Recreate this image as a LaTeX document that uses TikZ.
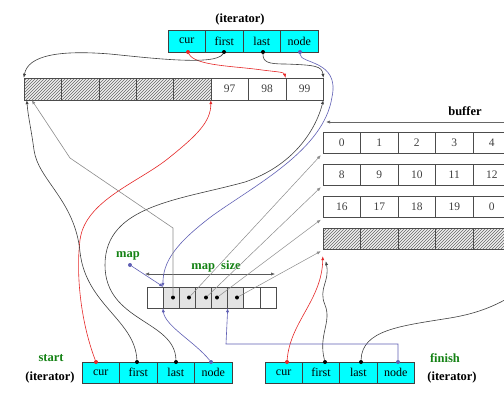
\documentclass[tikz,border=0pt]{standalone}
\usepackage{fontspec}
\setmainfont{Liberation Serif}
\usetikzlibrary{arrows.meta,patterns,calc}
\definecolor{cyanbox}{RGB}{0,255,255}
\definecolor{redline}{RGB}{230,40,40}
\definecolor{blueline}{RGB}{95,95,180}
\definecolor{greentext}{RGB}{20,130,20}
\definecolor{grayline}{RGB}{140,140,140}
\tikzset{
  itcell/.style={draw=black!75, fill=cyanbox, minimum width=37.5pt, minimum height=22pt, inner sep=0pt, font=\fontsize{12}{14}\selectfont},
  bufcell/.style={draw=black!70, fill=white, minimum width=37.4pt, minimum height=22pt, inner sep=0pt, font=\fontsize{11.5}{14}\selectfont, text=black!75},
  rowcell/.style={bufcell, minimum width=37.5pt, minimum height=21pt},
  hatchcell/.style={draw=black!70, minimum width=37.4pt, minimum height=22pt, inner sep=0pt, preaction={fill=gray!12}, pattern=north east lines, pattern color=black!60},
  hatchrow/.style={hatchcell, minimum width=37.5pt, minimum height=21pt},
  mapcell/.style={draw=black!70, fill=white, minimum width=16.1pt, minimum height=21pt, inner sep=0pt},
  mapfull/.style={mapcell, fill=gray!22},
  dotmark/.style={circle, fill, inner sep=0pt, minimum size=4pt},
  ptr/.style={-{Latex[length=4pt,width=3.2pt]}, line width=0.6pt},
  lbl/.style={font=\bfseries\fontsize{12.5}{14}\selectfont},
  glbl/.style={font=\bfseries\fontsize{12.5}{14}\selectfont, text=greentext},
}
\begin{document}
\begin{tikzpicture}[x=1pt,y=-1pt]
\useasboundingbox[fill=white] (0,0) rectangle (504,402);

% ---- top iterator
\node[lbl] (titlab) at (240,19) {(iterator)};
\node[itcell] (tcur) at (186.75,41) {cur};
\node[itcell] (tfirst) at (224.25,41) {first};
\node[itcell] (tlast) at (261.75,41) {last};
\node[itcell] (tnode) at (299.25,41) {node};

% ---- top buffer
\foreach \i in {1,...,5}{
  \node[hatchcell] (b\i) at ({42.7+37.4*(\i-1)},89) {};
}
\node[bufcell] (b6) at ({42.7+37.4*5},89) {97};
\node[bufcell] (b7) at ({42.7+37.4*6},89) {98};
\node[bufcell] (b8) at ({42.7+37.4*7},89) {99};

% ---- buffer label and arrow
\node[lbl] (buflab) at (465,111) {buffer};
\coordinate (bufarrstart) at (506,122);
\coordinate (bufarrend) at (326,122);
\draw[ptr, black!60, line width=0.7pt] (bufarrstart) -- (bufarrend);

% ---- right buffers
\node[rowcell] (r1c1) at (341.75,142.5) {0};
\node[rowcell] (r1c2) at (379.25,142.5) {1};
\node[rowcell] (r1c3) at (416.75,142.5) {2};
\node[rowcell] (r1c4) at (454.25,142.5) {3};
\node[rowcell] (r1c5) at (491.75,142.5) {4};
\node[rowcell] (r2c1) at (341.75,174.5) {8};
\node[rowcell] (r2c2) at (379.25,174.5) {9};
\node[rowcell] (r2c3) at (416.75,174.5) {10};
\node[rowcell] (r2c4) at (454.25,174.5) {11};
\node[rowcell] (r2c5) at (491.75,174.5) {12};
\node[rowcell] (r3c1) at (341.75,207) {16};
\node[rowcell] (r3c2) at (379.25,207) {17};
\node[rowcell] (r3c3) at (416.75,207) {18};
\node[rowcell] (r3c4) at (454.25,207) {19};
\node[rowcell] (r3c5) at (491.75,207) {0};
\foreach \c/\x in {1/341.75,2/379.25,3/416.75,4/454.25,5/491.75}{
  \node[hatchrow] (r4c\c) at (\x,238.5) {};
}

% ---- map
\node[glbl] (maplab) at (128,256) {map};
\node[dotmark, blueline] (mapdot) at (130,265) {};
\node[glbl] (mapsizelab) at (216,266) {map\ \ size};
\coordinate (msl) at (145,274);
\coordinate (msr) at (275,274);
\draw[{Latex[length=4pt,width=3.2pt]}-{Latex[length=4pt,width=3.2pt]}, black!65, line width=0.6pt] (msl) -- (msr);
\node[mapcell] (m1) at (155.05,297.5) {};
\node[mapfull] (m2) at (171.15,297.5) {};
\node[mapfull] (m3) at (187.25,297.5) {};
\node[mapfull] (m4) at (203.35,297.5) {};
\node[mapfull] (m5) at (219.45,297.5) {};
\node[mapfull] (m6) at (235.55,297.5) {};
\node[mapcell] (m7) at (251.65,297.5) {};
\node[mapcell] (m8) at (267.75,297.5) {};
\node[dotmark] (md2) at (173,297.5) {};
\node[dotmark] (md3) at (189,297.5) {};
\node[dotmark] (md4) at (206,297.5) {};
\node[dotmark] (md5) at (217,297.5) {};
\node[dotmark] (md6) at (237,297.5) {};

% ---- start iterator
\node[glbl] (startlab) at (51,358) {start};
\node[lbl] (startit) at (50,377) {(iterator)};
\node[itcell, minimum height=21pt] (scur) at (100.75,372.5) {cur};
\node[itcell, minimum height=21pt] (sfirst) at (138.25,372.5) {first};
\node[itcell, minimum height=21pt] (slast) at (175.75,372.5) {last};
\node[itcell, minimum height=21pt] (snode) at (213.25,372.5) {node};

% ---- finish iterator
\node[glbl] (finishlab) at (445,358) {finish};
\node[lbl] (finishit) at (452,377) {(iterator)};
\node[itcell, minimum height=21pt] (fcur) at (283.6,372.5) {cur};
\node[itcell, minimum height=21pt] (ffirst) at (321,372.5) {first};
\node[itcell, minimum height=21pt] (flast) at (358.4,372.5) {last};
\node[itcell, minimum height=21pt] (fnode) at (395.9,372.5) {node};

% ---- dots on iterators
\node[dotmark, redline] (dtcur) at (188,52) {};
\node[dotmark] (dtfirst) at (224,52) {};
\node[dotmark] (dtlast) at (263,52) {};
\node[dotmark, blueline] (dtnode) at (300,52) {};
\node[dotmark, redline] (dscur) at (96,362) {};
\node[dotmark] (dsfirst) at (137,362) {};
\node[dotmark] (dslast) at (176,362) {};
\node[dotmark, blueline] (dsnode) at (211,362) {};
\node[dotmark, redline] (dfcur) at (287,362) {};
\node[dotmark] (dffirst) at (325,362) {};
\node[dotmark] (dflast) at (361,362) {};
\node[dotmark, blueline] (dfnode) at (398,362) {};

% ---- top iterator connectors
\draw[ptr, redline] (dtcur) .. controls (195,66) and (235,66) .. (262,70) .. controls (278,72) and (284,72) .. (b8.north west);
\draw[ptr, black!75] (dtfirst) .. controls (216,66) and (150,58) .. (110,54) .. controls (60,50) and (28,55) .. (b1.north west);
\draw[ptr, black!75] (dtlast) .. controls (263,62) and (268,64) .. (285,64) .. controls (315,65) and (322,66) .. (b8.north east);
\draw[ptr, blueline] (dtnode) .. controls (300,64) and (340,60) .. (332,97) .. controls (324,150) and (255,185) .. (212,216) .. controls (175,244) and (163,262) .. (m2.north west);

% ---- start iterator connectors
\draw[ptr, redline] (dscur) .. controls (80,320) and (76,272) .. (80,240) .. controls (85,200) and (140,182) .. (170,157) .. controls (196,136) and (211,122) .. (b6.south west);
\draw[ptr, black!75] (dsfirst) .. controls (135,320) and (86,305) .. (80,252) .. controls (75,200) and (38,180) .. (34,150) .. controls (31,128) and (28,116) .. ([xshift=3pt]b1.south west);
\draw[ptr, black!75] (dslast) .. controls (175,320) and (105,322) .. (105,265) .. controls (105,205) and (180,200) .. (245,182) .. controls (292,166) and (315,132) .. (b8.south east);
\draw[ptr, blueline] (dsnode) .. controls (195,342) and (165,326) .. (m2.south west);

% ---- map pointers
\draw[ptr, grayline] (md2) -- (173,228) -- (70,158) -- ([xshift=8pt]b1.south west);
\draw[ptr, grayline, line width=0.5pt] (md3) -- ($(r1c1.south west)+(-2,2)$);
\draw[ptr, grayline, line width=0.5pt] (md4) -- ($(r2c1.south west)+(-2,2)$);
\draw[ptr, grayline, line width=0.5pt] (md5) -- ($(r3c1.south west)+(-2,2)$);
\draw[ptr, grayline, line width=0.5pt] (md6) -- ($(r4c1.south west)+(-2,2)$);
\draw[ptr, blueline] (mapdot) -- (m1.north east);

% ---- finish iterator connectors
\draw[ptr, redline] (dfcur) .. controls (290,322) and (322,300) .. ($(r4c1.south west)+(0,7)$);
\draw[ptr, black!75] (dffirst) .. controls (318,335) and (332,322) .. (325,305) .. controls (318,288) and (330,282) .. ($(r4c1.south west)+(3,12)$);
\coordinate (flastend) at (512,296);
\draw[black!75, line width=0.6pt] (dflast) .. controls (362,330) and (400,326) .. (450,318) .. controls (480,313) and (496,305) .. (flastend);
\draw[ptr, blueline] (dfnode) -- (398,344) -- (226,344) -- (m5.south east);

\end{tikzpicture}
\end{document}
